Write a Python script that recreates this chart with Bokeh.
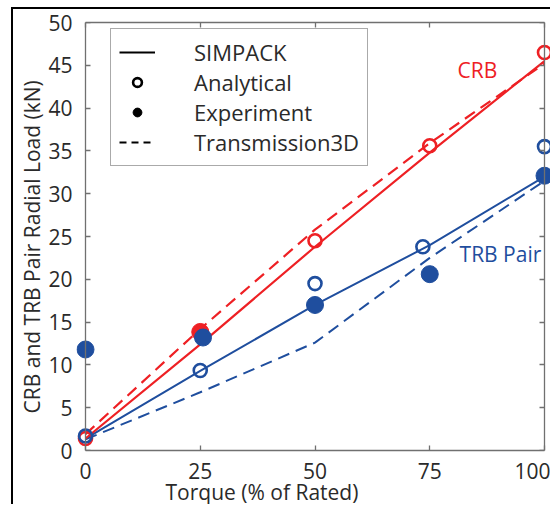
from bokeh.plotting import figure
from bokeh.models import (Range1d, LinearAxis, FixedTicker, Legend, LegendItem,
                          Label, Title, CustomJSTickFormatter)
from bokeh.embed import file_html
from bokeh.resources import INLINE

# ---------------- data ----------------
torque = [0, 25, 50, 75, 100]
x_ticks = [0, 25, 50, 75, 100]
y_ticks = [0, 5, 10, 15, 20, 25, 30, 35, 40, 45, 50]

crb_simpack = [1.4, 12.4, 23.8, 34.8, 45.5]
crb_analytical = [1.4, 13.7, 24.5, 35.6, 46.5]
crb_t3d = [1.9, 14.2, 25.8, 35.9, 45.2]
crb_exp_x = [25]
crb_exp_y = [13.85]

trb_simpack = [1.4, 9.3, 17.0, 24.0, 32.0]
trb_analytical_x = [0, 25, 50, 73.5, 100]
trb_analytical = [1.7, 9.35, 19.5, 23.8, 35.5]
trb_exp_x = [0, 25.6, 50, 75, 100]
trb_exp = [11.8, 13.2, 17.0, 20.6, 32.1]
trb_t3d = [1.3, 6.8, 12.6, 22.5, 31.5]

legend_labels = ["SIMPACK", "Analytical", "Experiment", "Transmission3D"]

# ---------------- style ----------------
FONT = "Open Sans"
RED = "#ee2024"
BLUE = "#1f4e9e"
AX = "#707070"
TXT = "#2a2a2a"

OX, OY = 13, 9                 # canvas origin inside the page (after css border)
FL = 76                        # frame left on the page
W, H = 552 - OX, 506 - OY
LB = FL - OX
TB = 22 - OY
BB = H - (450 - OY)
ppu = 459 / 100.0              # pixels per x unit
x0 = -(85 - FL) / ppu
x1 = x0 + (W - LB) / ppu

p = figure(width=W, height=H, x_range=Range1d(x0, x1), y_range=Range1d(0, 50),
           output_backend="svg", toolbar_location=None,
           x_axis_location=None, y_axis_location=None,
           min_border_left=LB, min_border_right=0, min_border_top=TB,
           min_border_bottom=BB)
p.outline_line_color = None
p.grid.visible = False
p.background_fill_color = "white"
p.border_fill_color = "white"
p.margin = (7, 0, 0, 11)
p.styles = {"border-left": "2px solid black", "border-top": "2px solid black"}

blank = CustomJSTickFormatter(code="return ''")

def base(ax, labels=True):
    ax.axis_line_color = AX
    ax.axis_line_width = 1.3
    ax.major_tick_line_color = AX
    ax.major_tick_line_width = 1.3
    ax.minor_tick_line_color = None
    ax.major_label_text_font = FONT
    ax.major_label_text_color = TXT
    ax.major_label_text_font_size = "21px" if labels else "1px"

# bottom axis with tick labels
bottom = LinearAxis(ticker=FixedTicker(ticks=x_ticks), bounds=(0, 100),
                    major_tick_in=5, major_tick_out=0, major_label_standoff=12)
base(bottom)
p.add_layout(bottom, "below")

# top box edge with ticks
top = LinearAxis(ticker=FixedTicker(ticks=x_ticks), bounds=(0, 100),
                 major_tick_in=5, major_tick_out=0, major_label_standoff=0,
                 formatter=blank)
base(top, labels=False)
p.add_layout(top, "above")

# left tick labels (at frame edge, no rule)
ylab = LinearAxis(ticker=FixedTicker(ticks=y_ticks), major_tick_in=0, major_tick_out=0,
                  major_label_standoff=FL - 72)
base(ylab)
ylab.axis_line_color = None
ylab.major_tick_line_color = None
p.add_layout(ylab, "left")

# left box edge at x = 0 with inward ticks
yrule = LinearAxis(ticker=FixedTicker(ticks=y_ticks), fixed_location=0,
                   major_tick_in=5, major_tick_out=0, major_label_standoff=0,
                   formatter=blank)
base(yrule, labels=False)
p.add_layout(yrule, "left")

# right box edge at x = 100 with inward ticks
yright = LinearAxis(ticker=FixedTicker(ticks=y_ticks), fixed_location=100,
                    major_tick_in=5, major_tick_out=0, major_label_standoff=0,
                    formatter=blank)
base(yright, labels=False)
p.add_layout(yright, "right")

# axis titles
p.add_layout(Title(text="Torque (% of Rated)", align="left", offset=89,
                   standoff=-12, text_font=FONT, text_font_size="21px",
                   text_font_style="normal", text_color=TXT), "below")
p.add_layout(Title(text="CRB and TRB Pair Radial Load (kN)", align="left", offset=37,
                   standoff=0, text_font=FONT, text_font_size="21px",
                   text_font_style="normal", text_color=TXT), "left")

# ---------------- series ----------------
DASH = "12 7"
p.line(torque, trb_t3d, line_color=BLUE, line_width=2, line_dash=DASH)
p.line(torque, trb_simpack, line_color=BLUE, line_width=2)
p.line(torque, crb_t3d, line_color=RED, line_width=2.2, line_dash=DASH)
p.line(torque, crb_simpack, line_color=RED, line_width=2.2)

p.scatter(torque, crb_analytical, size=13, fill_color="white", fill_alpha=0,
          line_color=RED, line_width=2.6)
p.scatter(crb_exp_x, crb_exp_y, size=17, fill_color=RED, line_color=RED)
p.scatter(trb_analytical_x, trb_analytical, size=13, fill_color="white", fill_alpha=0,
          line_color=BLUE, line_width=2.6)
p.scatter(trb_exp_x, trb_exp, size=17, fill_color=BLUE, line_color=BLUE)

# ---------------- legend (black proxies, hidden) ----------------
r_line = p.line(torque, crb_simpack, line_color="black", line_width=2, visible=False)
r_open = p.scatter(torque, crb_analytical, size=11, fill_color=None, line_color="black",
                   line_width=2.6, visible=False)
r_fill = p.scatter(trb_exp_x, trb_exp, size=15, fill_color="black", line_color="black",
                   visible=False)
r_dash = p.line(torque, crb_t3d, line_color="black", line_width=2, line_dash="7 5",
                visible=False)

legend = Legend(items=[LegendItem(label=legend_labels[0], renderers=[r_line]),
                       LegendItem(label=legend_labels[1], renderers=[r_open]),
                       LegendItem(label=legend_labels[2], renderers=[r_fill]),
                       LegendItem(label=legend_labels[3], renderers=[r_dash])],
                location=(110 - FL, 450 - 166), margin=0, padding=8, spacing=0,
                glyph_width=36, glyph_height=22, label_height=22,
                label_standoff=39, label_text_font=FONT,
                label_text_font_size="22px", label_text_color=TXT,
                border_line_color="#555555", border_line_width=1,
                background_fill_color="white", background_fill_alpha=1,
                inactive_fill_alpha=0)
p.add_layout(legend)

# ---------------- series labels ----------------
p.add_layout(Label(x=85.4, y=44.4, text="CRB", text_color=RED, text_font=FONT,
                   text_font_size="21px", text_align="center", text_baseline="middle"))
p.add_layout(Label(x=90.4, y=23.0, text="TRB Pair", text_color=BLUE, text_font=FONT,
                   text_font_size="21px", text_align="center", text_baseline="middle"))

open("out.html", "w").write(file_html(p, INLINE))
